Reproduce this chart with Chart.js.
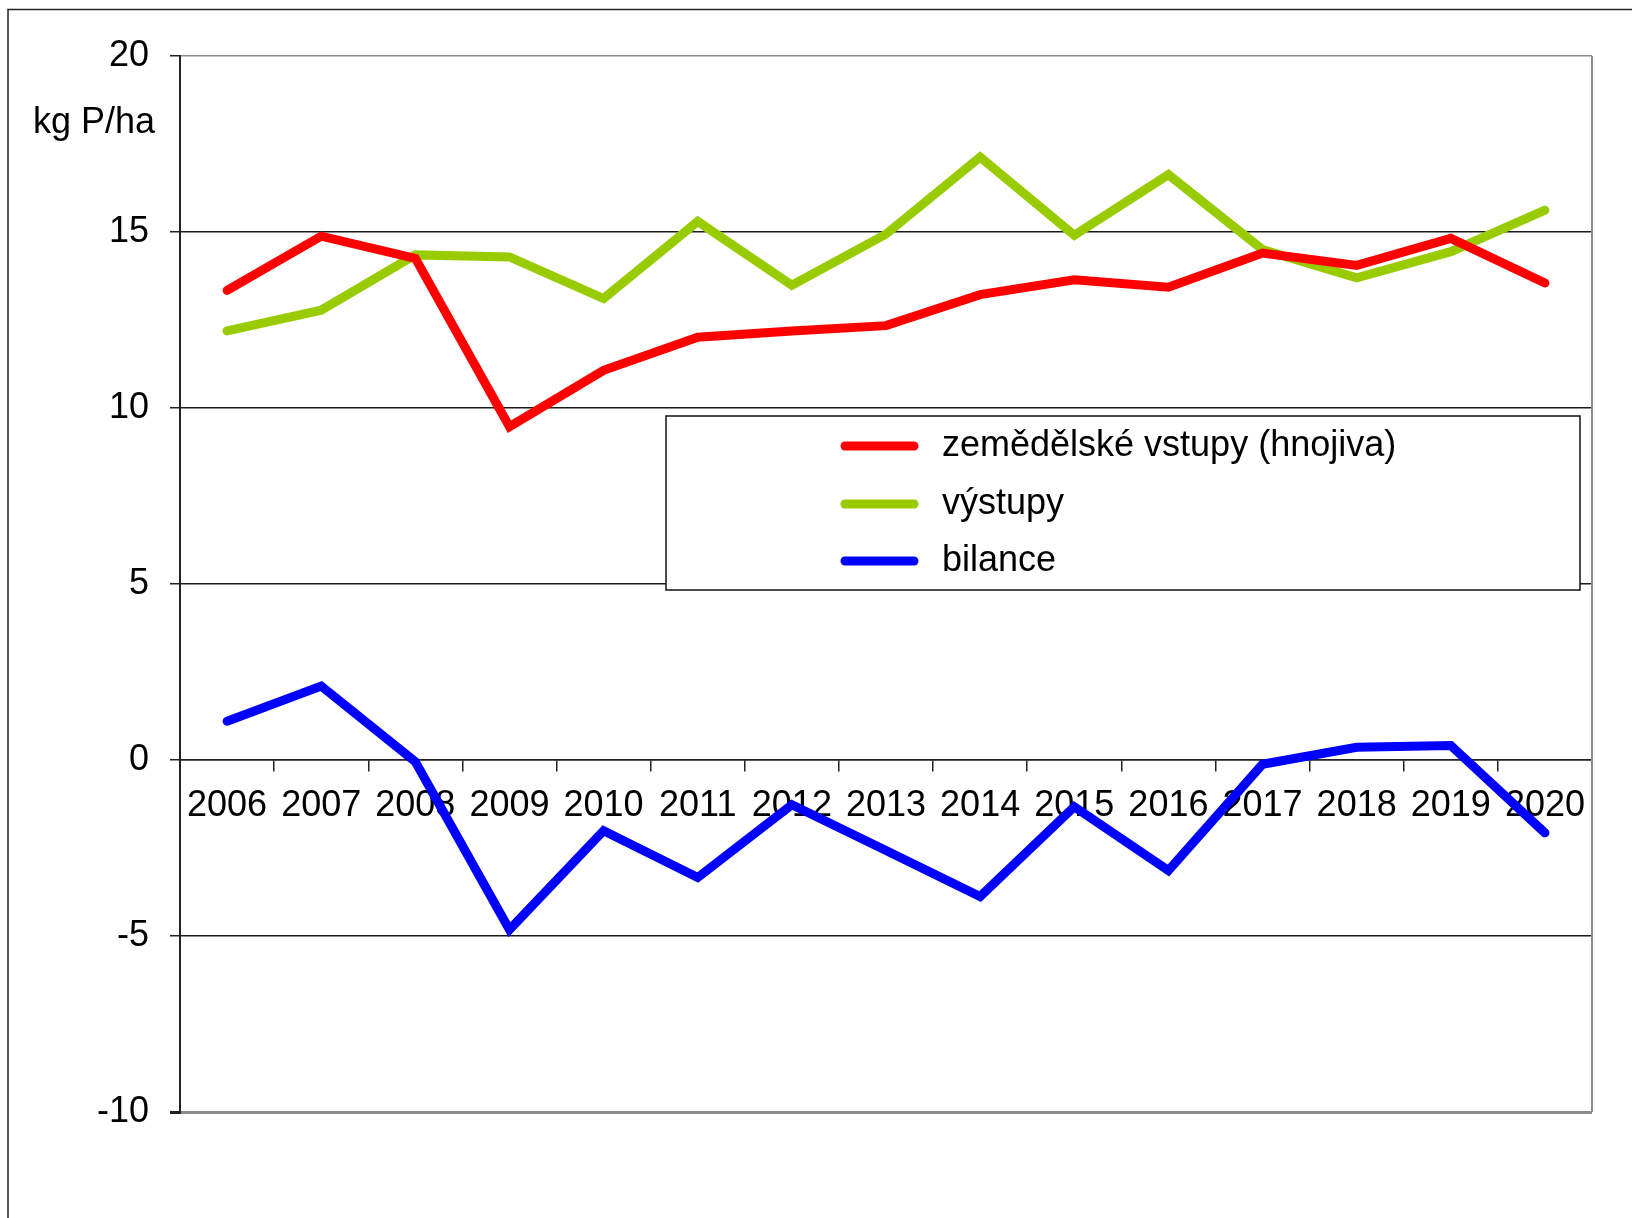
<!DOCTYPE html>
<html>
<head>
<meta charset="UTF-8">
<title>Bilance fosforu</title>
<style>
  html, body { margin: 0; padding: 0; background: #fff; }
</style>
</head>
<body>
<script src="https://cdn.jsdelivr.net/npm/chart.js@4/dist/chart.umd.min.js"></script>
<canvas id="myChart" width="1632" height="1218"></canvas>
<script type="text/javascript">
	// values, kg P/ha
	var years = ['2006', '2007', '2008', '2009', '2010', '2011', '2012', '2013', '2014', '2015', '2016', '2017', '2018', '2019', '2020'];
	var vstupy = [13.34, 14.88, 14.25, 9.47, 11.07, 12.01, 12.19, 12.34, 13.22, 13.64, 13.43, 14.40, 14.05, 14.82, 13.55];
	var vystupy = [12.19, 12.78, 14.35, 14.29, 13.11, 15.30, 13.49, 14.94, 17.13, 14.91, 16.63, 14.50, 13.70, 14.44, 15.62];
	var bilance = [1.10, 2.10, -0.05, -4.82, -2.01, -3.34, -1.27, -2.57, -3.88, -1.33, -3.14, -0.12, 0.36, 0.41, -2.07];
	var yTicks = [-10, -5, 0, 5, 10, 15, 20];
	var seriesNames = ['zemědělské vstupy (hnojiva)', 'výstupy', 'bilance'];
	var unitLabel = 'kg P/ha';

	var FONT = '"Liberation Sans", Arial, sans-serif';

	var extras = {
		id: 'extras',
		beforeDraw: function(chart) {
			var c = chart.ctx;
			c.save();
			c.fillStyle = '#fff';
			c.fillRect(0, 0, chart.width, chart.height);
			// outer frame (only left and top are inside the picture)
			c.strokeStyle = '#222';
			c.lineWidth = 1.5;
			c.beginPath();
			c.moveTo(8, chart.height + 5);
			c.lineTo(8, 9.5);
			c.lineTo(chart.width + 5, 9.5);
			c.stroke();
			c.restore();
		},
		beforeDatasetsDraw: function(chart) {
			var a = chart.chartArea, c = chart.ctx;
			c.save();
			c.strokeStyle = '#8c8c8c';
			c.lineWidth = 2;
			c.beginPath();
			c.moveTo(a.right, a.top);
			c.lineTo(a.right, a.bottom);
			c.stroke();
			c.restore();
		},
		afterDraw: function(chart) {
			var c = chart.ctx;
			c.save();
			c.font = '36px ' + FONT;
			c.fillStyle = '#000';
			c.textBaseline = 'middle';
			c.textAlign = 'left';
			c.fillText(unitLabel, 33, 123);

			// legend box
			var bx = 666, by = 416, bw = 914, bh = 174;
			c.fillStyle = '#fff';
			c.fillRect(bx, by, bw, bh);
			c.strokeStyle = '#111';
			c.lineWidth = 1.5;
			c.strokeRect(bx, by, bw, bh);

			var rows = [446, 504, 561];
			chart.data.datasets.forEach(function(ds, i) {
				c.strokeStyle = ds.borderColor;
				c.lineWidth = 9;
				c.lineCap = 'round';
				c.beginPath();
				c.moveTo(845, rows[i]);
				c.lineTo(914, rows[i]);
				c.stroke();
				c.fillStyle = '#000';
				c.fillText(ds.label, 942, rows[i]);
			});
			c.restore();
		}
	};

	var ctx = document.getElementById('myChart').getContext('2d');
	var myChart = new Chart(ctx, {
		type: 'line',
		data: {
			labels: years,
			datasets: [
				{ label: seriesNames[0], data: vstupy, borderColor: '#ff0000' },
				{ label: seriesNames[1], data: vystupy, borderColor: '#99cc00' },
				{ label: seriesNames[2], data: bilance, borderColor: '#0000ff' }
			]
		},
		options: {
			responsive: false,
			animation: false,
			layout: { padding: { top: 56, right: 40, bottom: 106, left: 0 } },
			elements: {
				line: { borderWidth: 9, tension: 0, borderCapStyle: 'round', borderJoinStyle: 'miter', fill: false },
				point: { radius: 0, hoverRadius: 0 }
			},
			plugins: {
				legend: { display: false },
				tooltip: { enabled: false }
			},
			scales: {
				x: {
					position: { y: 0 },
					offset: true,
					z: 1,
					grid: { offset: true, drawOnChartArea: false, drawTicks: true, tickLength: 11, color: '#222', lineWidth: 1.5 },
					border: { display: true, color: '#222', width: 1.5 },
					ticks: { font: { size: 36, family: FONT }, color: '#000', padding: 13, autoSkip: false, maxRotation: 0, minRotation: 0 }
				},
				y: {
					min: -10,
					max: 20,
					afterFit: function(scale) { scale.width = 180; },
					afterBuildTicks: function(scale) {
						scale.ticks = yTicks.map(function(v) { return { value: v }; });
					},
					grid: {
						color: function(c) {
							return (c.tick && (c.tick.value === 20 || c.tick.value === -10)) ? '#8c8c8c' : '#1a1a1a';
						},
						lineWidth: function(c) {
							return (c.tick && c.tick.value === -10) ? 3 : 1.5;
						},
						tickColor: '#222',
						tickLength: 10
					},
					border: { display: true, color: '#222', width: 2 },
					ticks: { font: { size: 36, family: FONT }, color: '#000', padding: 21 }
				}
			}
		},
		plugins: [extras]
	});
</script>
</body>
</html>
